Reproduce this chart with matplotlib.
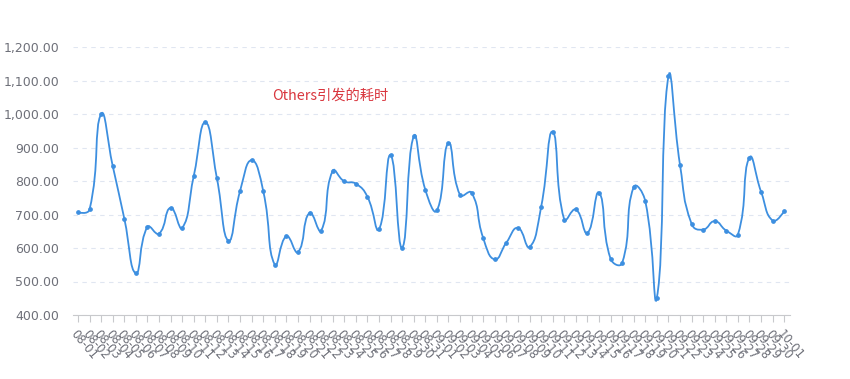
import matplotlib
matplotlib.use("Agg")
import matplotlib.pyplot as plt
from matplotlib.path import Path
from matplotlib.patches import PathPatch
from matplotlib.ticker import FuncFormatter
import numpy as np
import datetime as dt

# data
start = dt.date(2023, 8, 1)
dates = [(start + dt.timedelta(days=i)).strftime("%m-%d") for i in range(62)]
values = [706, 715, 1000, 845, 688, 525, 663, 643, 720, 660,
          815, 975, 808, 622, 770, 862, 770, 550, 635, 588,
          705, 652, 830, 799, 792, 753, 656, 877, 601, 933,
          774, 712, 913, 758, 765, 630, 566, 616, 660, 603,
          722, 947, 685, 715, 645, 765, 568, 555, 782, 740,
          452, 1112, 848, 672, 655, 680, 652, 640, 870, 768,
          682, 710]
title = "Others引发的耗时"

blue = "#3d8fe0"
grey = "#6e7079"

fig = plt.figure(figsize=(8.5, 3.79), dpi=100)
ax = fig.add_axes([73 / 850, 64 / 379, 717 / 850, 268 / 379])

x = np.arange(len(values))
y = np.array(values, dtype=float)

# smooth bezier like echarts (smooth = 0.5), computed in pixel units
sx, sy = 11.6, 0.335
smooth = 0.5
verts = [(x[0], y[0])]
codes = [Path.MOVETO]
cps = []
for i in range(len(x)):
    if i == 0 or i == len(x) - 1:
        cps.append(((x[i], y[i]), (x[i], y[i])))
        continue
    dx = x[i + 1] - x[i - 1]
    dy = y[i + 1] - y[i - 1]
    l0 = np.hypot((x[i] - x[i - 1]) * sx, (y[i] - y[i - 1]) * sy)
    l1 = np.hypot((x[i + 1] - x[i]) * sx, (y[i + 1] - y[i]) * sy)
    r = l1 / (l0 + l1)
    cin = (x[i] - dx * smooth * (1 - r), y[i] - dy * smooth * (1 - r))
    cout = (x[i] + dx * smooth * r, y[i] + dy * smooth * r)
    cps.append((cin, cout))
for i in range(1, len(x)):
    verts += [cps[i - 1][1], cps[i][0], (x[i], y[i])]
    codes += [Path.CURVE4] * 3
ax.add_patch(PathPatch(Path(verts, codes), facecolor="none", edgecolor=blue, lw=1.3, zorder=3))
ax.plot(x, y, "o", color=blue, ms=2.4, zorder=4)

ax.set_xlim(-0.43, len(x) - 1 + 0.5)
ax.set_ylim(400, 1200)
ax.set_yticks(range(400, 1201, 100))
ax.yaxis.set_major_formatter(FuncFormatter(lambda v, p: f"{v:,.2f}"))
ax.grid(axis="y", color="#e0e6f1", ls=(0, (4, 4)), lw=0.8)
ax.set_axisbelow(True)

for s in ["top", "right", "left"]:
    ax.spines[s].set_visible(False)
ax.spines["bottom"].set_color("#c8c9cc")
ax.tick_params(axis="y", length=0, labelsize=9, labelcolor=grey, pad=10)

ax.set_xticks(x)
ax.set_xticklabels(dates, rotation=-50, ha="left", va="top", rotation_mode="anchor",
                   fontsize=8.5, color=grey)
ax.tick_params(axis="x", length=5, color="#c8c9cc", pad=4)

fig.text(272 / 850, 1 - 96 / 379, title, color="#d9363e", fontsize=10.3,
         family=["Noto Sans CJK SC", "DejaVu Sans"], ha="left", va="center")

fig.savefig("out.png", dpi=100)
